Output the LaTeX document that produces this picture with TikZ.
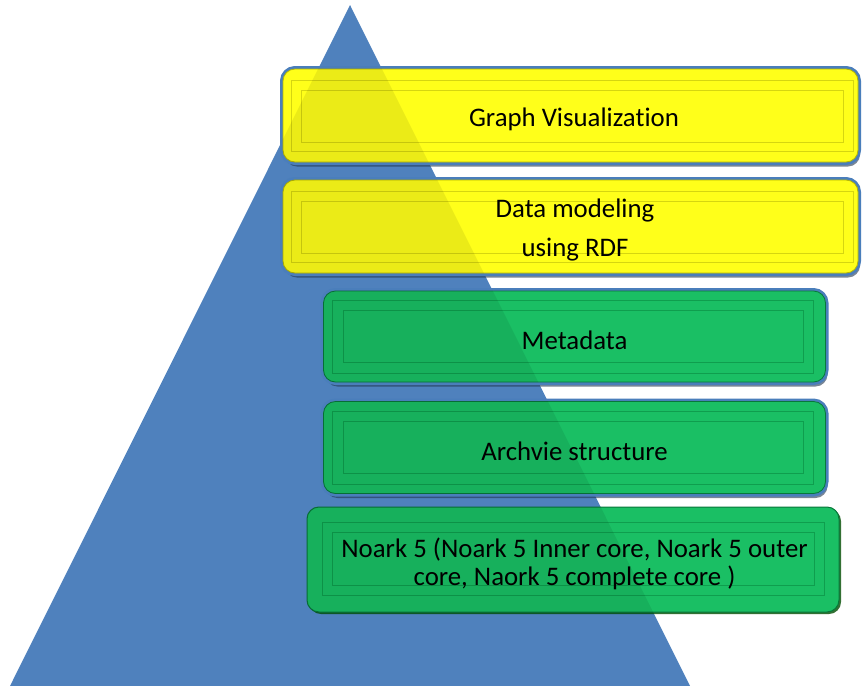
\documentclass[tikz,border=0pt]{standalone}
\usepackage{fontspec}
\setmainfont[Ligatures=NoCommon]{Carlito}
\usetikzlibrary{calc,shadows}
\definecolor{tri}{HTML}{4F81BD}
\definecolor{ylw}{HTML}{FFFF1A}
\definecolor{ylwd}{HTML}{B8B800}
\definecolor{ylwl}{HTML}{D6D610}
\definecolor{grn}{HTML}{1ABF64}
\definecolor{grnd}{HTML}{07783A}
\definecolor{grnl}{HTML}{0F9E4E}
\definecolor{ring}{HTML}{4A7EBB}
\definecolor{shd}{HTML}{1F3550}
\tikzset{
  layer/.style={rounded corners=12pt, inner sep=0pt},
  ylayer/.style={layer, fill=ylw, draw=ylwd, line width=0.8pt,
    preaction={fill=shd, opacity=0.6, transform canvas={xshift=2pt,yshift=-4.5pt}},
    preaction={draw=ring, line width=6pt}},
  glayer/.style={layer, fill=grn, draw=grnd, line width=0.8pt,
    preaction={fill=shd, opacity=0.6, transform canvas={xshift=2pt,yshift=-4.5pt}},
    preaction={draw=ring, line width=6pt}},
  gbase/.style={layer, fill=grn, draw=grnd, line width=1pt,
    preaction={fill=black!70!green, opacity=0.8, transform canvas={xshift=2pt,yshift=-2pt}}},
  txt/.style={align=center, inner sep=0pt, text=black,
    font=\fontsize{26.8}{28}\selectfont},
  yframe/.style={draw=ylwl, line width=0.9pt},
  gframe/.style={draw=grnl, line width=0.9pt},
  dim/.style={fill=black, fill opacity=0.08, rounded corners=12pt},
}
\begin{document}
\begin{tikzpicture}[x=1pt,y=-1pt]
\useasboundingbox (0,0) rectangle (863,686);
% pyramid
\coordinate (apex) at (350,5);
\coordinate (bl) at (10,686);
\coordinate (br) at (690,686);
\fill[tri] (apex) -- (bl) -- (br) -- cycle;

% layers
\node[ylayer, minimum width=575pt, minimum height=93pt] (b1) at (570.5,115.5) {};
\node[ylayer, minimum width=575pt, minimum height=93pt] (b2) at (570.5,226.5) {};
\node[glayer, minimum width=502pt, minimum height=91pt] (b3) at (574.5,336.5) {};
\node[glayer, minimum width=502pt, minimum height=92pt] (b4) at (574.5,447.5) {};
\node[gbase, minimum width=532pt, minimum height=105pt] (b5) at (573,559.5) {};

% bevel frames
\foreach \b in {b1,b2}{
  \draw[yframe] ($(\b.north west)+(9,12)$) rectangle ($(\b.south east)+(-5,-11)$);
  \draw[yframe] ($(\b.north west)+(19,22)$) rectangle ($(\b.south east)+(-15,-20)$);
}
\foreach \b in {b3,b4}{
  \draw[gframe] ($(\b.north west)+(9,10)$) rectangle ($(\b.south east)+(-12,-9)$);
  \draw[gframe] ($(\b.north west)+(20,20)$) rectangle ($(\b.south east)+(-22,-20)$);
}
\draw[gframe] ($(b5.north west)+(16,16)$) rectangle ($(b5.south east)+(-15,-17)$);
\draw[gframe] ($(b5.north west)+(26,26)$) rectangle ($(b5.south east)+(-25,-27)$);

% pyramid showing through the layers
\begin{scope}
  \clip (apex) -- (bl) -- (br) -- cycle;
  \foreach \b in {b1,b2,b3,b4,b5}{
    \fill[dim] (\b.north west) rectangle (\b.south east);
  }
\end{scope}

% texts
\node[txt] (t1) at ($(b1.center)+(3.5,4)$) {Graph Visualization};
\node[txt, font=\fontsize{26.8}{39}\selectfont] (t2) at ($(b2.center)+(4.5,3.5)$) {Data modeling\\ using RDF};
\node[txt] (t3) at ($(b3.center)+(0,3.5)$) {Metadata};
\node[txt] (t4) at ($(b4.center)+(0,3.5)$) {Archvie structure};
\node[txt] (t5) at ($(b5.center)+(1.5,4.5)$) {Noark 5 (Noark 5 Inner core, Noark 5 outer\\ core, Naork 5 complete core )};
\end{tikzpicture}
\end{document}
